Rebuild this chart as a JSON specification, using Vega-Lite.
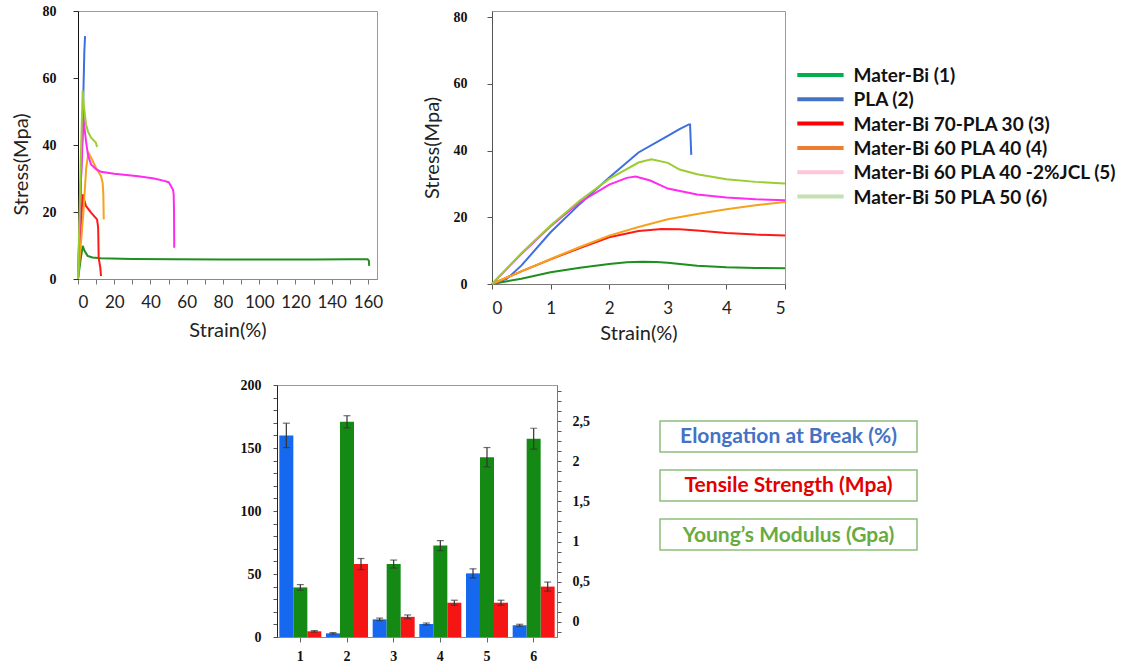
{
  "$schema": "https://vega.github.io/schema/vega-lite/v6.json",
  "background": "white",
  "padding": {"left": 10, "top": 3, "right": 3, "bottom": 0},
  "config": {
    "view": {"stroke": "#9a9a9a"},
    "axis": {"grid": false},
    "font": "Lato"
  },
  "datasets": {
    "full": [
      {"id": "1", "strain": 0, "stress": 0}, {"id": "1", "strain": 1.5, "stress": 6}, {"id": "1", "strain": 2.6, "stress": 9.9}, {"id": "1", "strain": 3.5, "stress": 8.5}, {"id": "1", "strain": 5.3, "stress": 6.9}, {"id": "1", "strain": 8, "stress": 6.4}, {"id": "1", "strain": 12.7, "stress": 6.2}, {"id": "1", "strain": 30, "stress": 6.0}, {"id": "1", "strain": 53, "stress": 5.9}, {"id": "1", "strain": 80, "stress": 5.8}, {"id": "1", "strain": 104.6, "stress": 5.8}, {"id": "1", "strain": 130, "stress": 5.8}, {"id": "1", "strain": 150, "stress": 5.9}, {"id": "1", "strain": 159.8, "stress": 5.9}, {"id": "1", "strain": 160.5, "stress": 5.5}, {"id": "1", "strain": 160.7, "stress": 3.9},
      {"id": "2", "strain": 0, "stress": 0}, {"id": "2", "strain": 2.5, "stress": 45}, {"id": "2", "strain": 3.1, "stress": 58.6}, {"id": "2", "strain": 3.5, "stress": 68}, {"id": "2", "strain": 3.9, "stress": 72.5},
      {"id": "3", "strain": 0, "stress": 0}, {"id": "3", "strain": 1.5, "stress": 15}, {"id": "3", "strain": 2.6, "stress": 25.3}, {"id": "3", "strain": 3.2, "stress": 24}, {"id": "3", "strain": 4.4, "stress": 21.8}, {"id": "3", "strain": 7.2, "stress": 19.8}, {"id": "3", "strain": 10.5, "stress": 17.8}, {"id": "3", "strain": 11.1, "stress": 15.5}, {"id": "3", "strain": 11.2, "stress": 13.3}, {"id": "3", "strain": 11.4, "stress": 6.4}, {"id": "3", "strain": 12.3, "stress": 3.4}, {"id": "3", "strain": 12.7, "stress": 0.9},
      {"id": "4", "strain": 0, "stress": 0}, {"id": "4", "strain": 3, "stress": 20}, {"id": "4", "strain": 4.5, "stress": 33}, {"id": "4", "strain": 5.7, "stress": 37.7}, {"id": "4", "strain": 7, "stress": 36.5}, {"id": "4", "strain": 9.9, "stress": 33.2}, {"id": "4", "strain": 12.7, "stress": 30.7}, {"id": "4", "strain": 13.6, "stress": 28.7}, {"id": "4", "strain": 14, "stress": 25}, {"id": "4", "strain": 14.2, "stress": 17.8},
      {"id": "5", "strain": 0, "stress": 0}, {"id": "5", "strain": 1.5, "stress": 28}, {"id": "5", "strain": 3.1, "stress": 48.4}, {"id": "5", "strain": 3.6, "stress": 45}, {"id": "5", "strain": 4.4, "stress": 41.2}, {"id": "5", "strain": 5.5, "stress": 37}, {"id": "5", "strain": 7.2, "stress": 34.2}, {"id": "5", "strain": 10, "stress": 32.8}, {"id": "5", "strain": 12.7, "stress": 32}, {"id": "5", "strain": 20, "stress": 31.4}, {"id": "5", "strain": 33.3, "stress": 30.7}, {"id": "5", "strain": 42, "stress": 30}, {"id": "5", "strain": 47.6, "stress": 29.3}, {"id": "5", "strain": 50, "stress": 28.9}, {"id": "5", "strain": 51.3, "stress": 27.8}, {"id": "5", "strain": 52.5, "stress": 26.5}, {"id": "5", "strain": 52.8, "stress": 25.3}, {"id": "5", "strain": 53, "stress": 20}, {"id": "5", "strain": 53.1, "stress": 9.3},
      {"id": "6", "strain": 0, "stress": 0}, {"id": "6", "strain": 1.5, "stress": 35}, {"id": "6", "strain": 2.6, "stress": 56.3}, {"id": "6", "strain": 3.2, "stress": 52}, {"id": "6", "strain": 4.4, "stress": 46.2}, {"id": "6", "strain": 5.5, "stress": 44}, {"id": "6", "strain": 7.2, "stress": 42.2}, {"id": "6", "strain": 9.9, "stress": 40.7}, {"id": "6", "strain": 10.5, "stress": 39.4}
    ],
    "zoom": [
      {"id": "1", "strain": 0, "stress": 0}, {"id": "1", "strain": 0.5, "stress": 1.6}, {"id": "1", "strain": 1, "stress": 3.5}, {"id": "1", "strain": 1.5, "stress": 4.9}, {"id": "1", "strain": 2, "stress": 6}, {"id": "1", "strain": 2.3, "stress": 6.5}, {"id": "1", "strain": 2.56, "stress": 6.7}, {"id": "1", "strain": 2.8, "stress": 6.6}, {"id": "1", "strain": 3, "stress": 6.4}, {"id": "1", "strain": 3.5, "stress": 5.5}, {"id": "1", "strain": 4, "stress": 5}, {"id": "1", "strain": 4.5, "stress": 4.8}, {"id": "1", "strain": 5, "stress": 4.7},
      {"id": "2", "strain": 0, "stress": 0}, {"id": "2", "strain": 0.25, "stress": 1.5}, {"id": "2", "strain": 0.5, "stress": 5.5}, {"id": "2", "strain": 1, "stress": 15.5}, {"id": "2", "strain": 1.5, "stress": 24}, {"id": "2", "strain": 2, "stress": 31.9}, {"id": "2", "strain": 2.5, "stress": 39.4}, {"id": "2", "strain": 3, "stress": 44.4}, {"id": "2", "strain": 3.2, "stress": 46.4}, {"id": "2", "strain": 3.36, "stress": 47.8}, {"id": "2", "strain": 3.38, "stress": 47.8}, {"id": "2", "strain": 3.4, "stress": 38.7},
      {"id": "3", "strain": 0, "stress": 0}, {"id": "3", "strain": 0.5, "stress": 3.8}, {"id": "3", "strain": 1, "stress": 7.4}, {"id": "3", "strain": 1.5, "stress": 10.8}, {"id": "3", "strain": 2, "stress": 14}, {"id": "3", "strain": 2.5, "stress": 15.9}, {"id": "3", "strain": 2.9, "stress": 16.5}, {"id": "3", "strain": 3.2, "stress": 16.4}, {"id": "3", "strain": 3.5, "stress": 16}, {"id": "3", "strain": 4, "stress": 15.3}, {"id": "3", "strain": 4.5, "stress": 14.8}, {"id": "3", "strain": 5, "stress": 14.5},
      {"id": "4", "strain": 0, "stress": 0}, {"id": "4", "strain": 0.5, "stress": 3.8}, {"id": "4", "strain": 1, "stress": 7.5}, {"id": "4", "strain": 1.5, "stress": 11.1}, {"id": "4", "strain": 2, "stress": 14.5}, {"id": "4", "strain": 2.5, "stress": 17.1}, {"id": "4", "strain": 3, "stress": 19.4}, {"id": "4", "strain": 3.5, "stress": 21}, {"id": "4", "strain": 4, "stress": 22.4}, {"id": "4", "strain": 4.5, "stress": 23.6}, {"id": "4", "strain": 5, "stress": 24.6},
      {"id": "5", "strain": 0, "stress": 0}, {"id": "5", "strain": 0.5, "stress": 9}, {"id": "5", "strain": 1, "stress": 17.3}, {"id": "5", "strain": 1.5, "stress": 24.5}, {"id": "5", "strain": 2, "stress": 29.8}, {"id": "5", "strain": 2.3, "stress": 31.8}, {"id": "5", "strain": 2.45, "stress": 32.2}, {"id": "5", "strain": 2.7, "stress": 31}, {"id": "5", "strain": 3, "stress": 28.6}, {"id": "5", "strain": 3.5, "stress": 26.8}, {"id": "5", "strain": 4, "stress": 25.9}, {"id": "5", "strain": 4.5, "stress": 25.4}, {"id": "5", "strain": 5, "stress": 25.1},
      {"id": "6", "strain": 0, "stress": 0}, {"id": "6", "strain": 0.5, "stress": 9.2}, {"id": "6", "strain": 1, "stress": 17.5}, {"id": "6", "strain": 1.5, "stress": 25}, {"id": "6", "strain": 2, "stress": 31.5}, {"id": "6", "strain": 2.5, "stress": 36.4}, {"id": "6", "strain": 2.72, "stress": 37.4}, {"id": "6", "strain": 3, "stress": 36.3}, {"id": "6", "strain": 3.2, "stress": 34.3}, {"id": "6", "strain": 3.5, "stress": 32.9}, {"id": "6", "strain": 4, "stress": 31.4}, {"id": "6", "strain": 4.5, "stress": 30.6}, {"id": "6", "strain": 5, "stress": 30.1}
    ],
    "names": [
      {"id": "1", "name": "Mater-Bi (1)"},
      {"id": "2", "name": "PLA (2)"},
      {"id": "3", "name": "Mater-Bi 70-PLA 30 (3)"},
      {"id": "4", "name": "Mater-Bi 60 PLA 40 (4)"},
      {"id": "5", "name": "Mater-Bi 60 PLA 40 -2%JCL (5)"},
      {"id": "6", "name": "Mater-Bi 50 PLA 50 (6)"}
    ],
    "bars": [
      {"g": "1", "m": "E", "v": 160, "lo": 150.3, "hi": 169.7},
      {"g": "1", "m": "Y", "v": 0.43, "lo": 0.395, "hi": 0.465},
      {"g": "1", "m": "T", "v": 4.5, "lo": 3.9, "hi": 5.1},
      {"g": "2", "m": "E", "v": 2.9, "lo": 2.3, "hi": 3.5},
      {"g": "2", "m": "Y", "v": 2.49, "lo": 2.414, "hi": 2.566},
      {"g": "2", "m": "T", "v": 57.9, "lo": 53.5, "hi": 62.3},
      {"g": "3", "m": "E", "v": 14, "lo": 13, "hi": 15},
      {"g": "3", "m": "Y", "v": 0.72, "lo": 0.67, "hi": 0.77},
      {"g": "3", "m": "T", "v": 16, "lo": 14.5, "hi": 17.5},
      {"g": "4", "m": "E", "v": 10.3, "lo": 9.5, "hi": 11.1},
      {"g": "4", "m": "Y", "v": 0.95, "lo": 0.888, "hi": 1.012},
      {"g": "4", "m": "T", "v": 27.2, "lo": 25.2, "hi": 29.2},
      {"g": "5", "m": "E", "v": 50.5, "lo": 46.9, "hi": 54.1},
      {"g": "5", "m": "Y", "v": 2.05, "lo": 1.93, "hi": 2.17},
      {"g": "5", "m": "T", "v": 27.2, "lo": 25.2, "hi": 29.2},
      {"g": "6", "m": "E", "v": 9.3, "lo": 8.5, "hi": 10.1},
      {"g": "6", "m": "Y", "v": 2.28, "lo": 2.15, "hi": 2.41},
      {"g": "6", "m": "T", "v": 40, "lo": 36.4, "hi": 43.6}
    ]
  },
  "resolve": {"scale": {"color": "independent"}},
  "spacing": 33,
  "vconcat": [
    {
      "spacing": 37,
      "hconcat": [
        {
          "width": 299,
          "height": 268,
          "data": {"name": "full"},
          "mark": {"type": "line", "strokeWidth": 2},
          "encoding": {
            "x": {"field": "strain", "type": "quantitative", "scale": {"domain": [0, 165], "nice": false},
              "axis": {"values": [0, 10, 20, 30, 40, 50, 60, 70, 80, 90, 100, 110, 120, 130, 140, 150, 160], "labelExpr": "datum.value % 20 == 0 ? datum.label : ''", "labelOverlap": false, "labelFont": "Lato", "labelFontSize": 17, "labelColor": "#222", "labelPadding": 10, "tickSize": 5, "tickColor": "#777", "domainColor": "#888", "title": "Strain(%)", "titleFont": "Lato", "titleFontSize": 20, "titleFontWeight": "normal", "titleColor": "#222", "titlePadding": 10}},
            "y": {"field": "stress", "type": "quantitative", "scale": {"domain": [0, 80], "nice": false},
              "axis": {"values": [0, 20, 40, 60, 80], "labelFont": "Liberation Serif", "labelFontWeight": "bold", "labelFontSize": 14, "labelColor": "#111", "labelPadding": 17, "tickSize": 5, "tickColor": "#333", "domainColor": "#111", "title": "Stress(Mpa)", "titleFont": "Lato", "titleFontSize": 20, "titleFontWeight": "normal", "titleColor": "#222", "titlePadding": 11, "titleY": 153}},
            "color": {"field": "id", "type": "nominal", "scale": {"domain": ["1", "2", "3", "4", "5", "6"], "range": ["#1f8f1f", "#3d6fe0", "#ff1a1a", "#f5a31a", "#ff2bf0", "#9acd32"]}, "legend": null}
          }
        },
        {
          "width": 293,
          "height": 273,
          "resolve": {"scale": {"y": "independent"}},
          "layer": [
            {
              "data": {"name": "zoom"},
              "mark": {"type": "line", "strokeWidth": 2},
              "encoding": {
                "x": {"field": "strain", "type": "quantitative", "scale": {"domain": [0, 5], "nice": false},
                  "axis": {"values": [0, 1, 2, 3, 4, 5], "format": "d", "labelFont": "Lato", "labelFontSize": 17, "labelColor": "#222", "labelPadding": 11, "tickSize": 5, "tickColor": "#555", "domainColor": "#777", "title": "Strain(%)", "titleFont": "Lato", "titleFontSize": 20, "titleFontWeight": "normal", "titleColor": "#222", "titlePadding": 7}},
                "y": {"field": "stress", "type": "quantitative", "scale": {"domain": [0, 81.8], "nice": false},
                  "axis": {"values": [0, 20, 40, 60, 80], "labelFont": "Liberation Serif", "labelFontWeight": "bold", "labelFontSize": 14, "labelColor": "#111", "labelPadding": 20, "tickSize": 5, "tickColor": "#555", "domainColor": "#555", "title": "Stress(Mpa)", "titleFont": "Lato", "titleFontSize": 20, "titleFontWeight": "normal", "titleColor": "#222", "titlePadding": 11}},
                "color": {"field": "id", "type": "nominal", "scale": {"domain": ["1", "2", "3", "4", "5", "6"], "range": ["#1f8f1f", "#3d6fe0", "#ff1a1a", "#f5a31a", "#ff2bf0", "#9acd32"]}, "legend": null}
              }
            },
            {
              "data": {"name": "names"},
              "encoding": {
                "y": {"field": "id", "type": "nominal", "scale": {"type": "point", "domain": ["1", "2", "3", "4", "5", "6"], "range": [64, 185.5], "padding": 0}, "axis": null}
              },
              "layer": [
                {
                  "mark": {"type": "rule", "strokeWidth": 4},
                  "encoding": {
                    "x": {"datum": 5.21, "type": "quantitative"},
                    "x2": {"datum": 6.0},
                    "stroke": {"field": "id", "type": "nominal", "scale": {"domain": ["1", "2", "3", "4", "5", "6"], "range": ["#00b050", "#4472c4", "#ff0000", "#ed7d31", "#ffc6d9", "#c5e0b4"]}, "legend": null}
                  }
                },
                {
                  "mark": {"type": "text", "align": "left", "baseline": "middle", "font": "Lato", "fontSize": 19, "fontWeight": "bold", "color": "#111", "dy": 1},
                  "encoding": {
                    "x": {"datum": 6.17, "type": "quantitative"},
                    "text": {"field": "name"}
                  }
                }
              ]
            }
          ]
        }
      ]
    },
    {
      "spacing": 69,
      "resolve": {"scale": {"color": "independent"}},
      "hconcat": [
        {
          "width": 92,
          "height": 1,
          "view": {"stroke": null},
          "data": {"values": []},
          "mark": "point"
        },
        {
          "width": 280,
          "height": 252,
          "data": {"name": "bars"},
          "encoding": {
            "x": {"field": "g", "type": "nominal", "scale": {"paddingInner": 0.1, "paddingOuter": 0.05},
              "axis": {"labelAngle": 0, "labelFont": "Liberation Serif", "labelFontWeight": "bold", "labelFontSize": 14, "labelColor": "#111", "labelPadding": 7, "tickSize": 5, "tickColor": "#666", "domainColor": "#888", "title": null}},
            "xOffset": {"field": "m", "type": "nominal", "scale": {"domain": ["E", "Y", "T"]}}
          },
          "resolve": {"scale": {"y": "independent"}},
          "layer": [
            {
              "transform": [{"filter": "datum.m != 'Y'"}],
              "layer": [
                {
                  "mark": {"type": "bar"},
                  "encoding": {
                    "y": {"field": "v", "type": "quantitative", "scale": {"domain": [0, 200], "nice": false},
                      "axis": {"values": [0, 10, 20, 30, 40, 50, 60, 70, 80, 90, 100, 110, 120, 130, 140, 150, 160, 170, 180, 190, 200], "labelExpr": "datum.value % 50 == 0 ? datum.label : ''", "labelOverlap": false, "labelFont": "Liberation Serif", "labelFontWeight": "bold", "labelFontSize": 14, "labelColor": "#111", "labelPadding": 12, "tickSize": 4, "tickColor": "#555", "domainColor": "#222", "title": null}},
                    "color": {"field": "m", "type": "nominal", "scale": {"domain": ["E", "Y", "T"], "range": ["#1668ee", "#148a14", "#f51515"]}, "legend": null}
                  }
                },
                {
                  "mark": {"type": "rule", "color": "#333", "strokeWidth": 1.2},
                  "encoding": {
                    "y": {"field": "lo", "type": "quantitative",
                      "axis": {"values": [0, 10, 20, 30, 40, 50, 60, 70, 80, 90, 100, 110, 120, 130, 140, 150, 160, 170, 180, 190, 200], "labelExpr": "datum.value % 50 == 0 ? datum.label : ''", "labelOverlap": false, "labelFont": "Liberation Serif", "labelFontWeight": "bold", "labelFontSize": 14, "labelColor": "#111", "labelPadding": 12, "tickSize": 4, "tickColor": "#555", "domainColor": "#222", "title": null}},
                    "y2": {"field": "hi"}
                  }
                },
                {
                  "mark": {"type": "tick", "color": "#333", "size": 7, "thickness": 1.2},
                  "encoding": {"y": {"field": "lo", "type": "quantitative",
                      "axis": {"values": [0, 10, 20, 30, 40, 50, 60, 70, 80, 90, 100, 110, 120, 130, 140, 150, 160, 170, 180, 190, 200], "labelExpr": "datum.value % 50 == 0 ? datum.label : ''", "labelOverlap": false, "labelFont": "Liberation Serif", "labelFontWeight": "bold", "labelFontSize": 14, "labelColor": "#111", "labelPadding": 12, "tickSize": 4, "tickColor": "#555", "domainColor": "#222", "title": null}}}
                },
                {
                  "mark": {"type": "tick", "color": "#333", "size": 7, "thickness": 1.2},
                  "encoding": {"y": {"field": "hi", "type": "quantitative",
                      "axis": {"values": [0, 10, 20, 30, 40, 50, 60, 70, 80, 90, 100, 110, 120, 130, 140, 150, 160, 170, 180, 190, 200], "labelExpr": "datum.value % 50 == 0 ? datum.label : ''", "labelOverlap": false, "labelFont": "Liberation Serif", "labelFontWeight": "bold", "labelFontSize": 14, "labelColor": "#111", "labelPadding": 12, "tickSize": 4, "tickColor": "#555", "domainColor": "#222", "title": null}}}
                }
              ]
            },
            {
              "transform": [{"filter": "datum.m == 'Y'"}],
              "layer": [
                {
                  "mark": {"type": "bar"},
                  "encoding": {
                    "y": {"field": "v", "type": "quantitative", "scale": {"domain": [-0.187, 2.948], "nice": false, "zero": false},
                      "axis": {"orient": "right", "values": [-0.125, 0, 0.125, 0.25, 0.375, 0.5, 0.625, 0.75, 0.875, 1, 1.125, 1.25, 1.375, 1.5, 1.625, 1.75, 1.875, 2, 2.125, 2.25, 2.375, 2.5, 2.625, 2.75, 2.875], "labelExpr": "datum.value % 0.5 == 0 ? replace(format(datum.value, '~g'), '.', ',') : ''", "labelOverlap": false, "labelFont": "Liberation Serif", "labelFontWeight": "bold", "labelFontSize": 14, "labelColor": "#111", "labelPadding": 11, "tickSize": 4, "tickColor": "#555", "domainColor": "#777", "title": null}},
                    "y2": {"datum": -0.187},
                    "color": {"field": "m", "type": "nominal", "scale": {"domain": ["E", "Y", "T"], "range": ["#1668ee", "#148a14", "#f51515"]}, "legend": null}
                  }
                },
                {
                  "mark": {"type": "rule", "color": "#333", "strokeWidth": 1.2},
                  "encoding": {
                    "y": {"field": "lo", "type": "quantitative",
                      "axis": {"orient": "right", "values": [-0.125, 0, 0.125, 0.25, 0.375, 0.5, 0.625, 0.75, 0.875, 1, 1.125, 1.25, 1.375, 1.5, 1.625, 1.75, 1.875, 2, 2.125, 2.25, 2.375, 2.5, 2.625, 2.75, 2.875], "labelExpr": "datum.value % 0.5 == 0 ? replace(format(datum.value, '~g'), '.', ',') : ''", "labelOverlap": false, "labelFont": "Liberation Serif", "labelFontWeight": "bold", "labelFontSize": 14, "labelColor": "#111", "labelPadding": 11, "tickSize": 4, "tickColor": "#555", "domainColor": "#777", "title": null}},
                    "y2": {"field": "hi"}
                  }
                },
                {
                  "mark": {"type": "tick", "color": "#333", "size": 7, "thickness": 1.2},
                  "encoding": {"y": {"field": "lo", "type": "quantitative",
                      "axis": {"orient": "right", "values": [-0.125, 0, 0.125, 0.25, 0.375, 0.5, 0.625, 0.75, 0.875, 1, 1.125, 1.25, 1.375, 1.5, 1.625, 1.75, 1.875, 2, 2.125, 2.25, 2.375, 2.5, 2.625, 2.75, 2.875], "labelExpr": "datum.value % 0.5 == 0 ? replace(format(datum.value, '~g'), '.', ',') : ''", "labelOverlap": false, "labelFont": "Liberation Serif", "labelFontWeight": "bold", "labelFontSize": 14, "labelColor": "#111", "labelPadding": 11, "tickSize": 4, "tickColor": "#555", "domainColor": "#777", "title": null}}}
                },
                {
                  "mark": {"type": "tick", "color": "#333", "size": 7, "thickness": 1.2},
                  "encoding": {"y": {"field": "hi", "type": "quantitative",
                      "axis": {"orient": "right", "values": [-0.125, 0, 0.125, 0.25, 0.375, 0.5, 0.625, 0.75, 0.875, 1, 1.125, 1.25, 1.375, 1.5, 1.625, 1.75, 1.875, 2, 2.125, 2.25, 2.375, 2.5, 2.625, 2.75, 2.875], "labelExpr": "datum.value % 0.5 == 0 ? replace(format(datum.value, '~g'), '.', ',') : ''", "labelOverlap": false, "labelFont": "Liberation Serif", "labelFontWeight": "bold", "labelFontSize": 14, "labelColor": "#111", "labelPadding": 11, "tickSize": 4, "tickColor": "#555", "domainColor": "#777", "title": null}}}
                }
              ]
            }
          ]
        },
        {
          "width": 257,
          "height": 200,
          "view": {"stroke": null},
          "data": {"values": [
            {"label": "Elongation at Break (%)"},
            {"label": "Tensile Strength (Mpa)"},
            {"label": "Young’s Modulus (Gpa)"}
          ]},
          "encoding": {
            "y": {"field": "label", "type": "nominal", "sort": null, "scale": {"paddingInner": 0.367, "paddingOuter": 0.724, "align": 0.507}, "axis": null}
          },
          "layer": [
            {
              "mark": {"type": "bar", "fill": "white", "stroke": "#8fbf7b", "strokeWidth": 1.5},
              "encoding": {
                "x": {"datum": 0, "type": "quantitative", "scale": {"domain": [0, 1], "nice": false}, "axis": null},
                "x2": {"datum": 1}
              }
            },
            {
              "mark": {"type": "text", "align": "center", "baseline": "middle", "font": "Lato", "fontSize": 21, "fontWeight": "bold", "dy": 1},
              "encoding": {
                "x": {"datum": 0.5, "type": "quantitative"},
                "text": {"field": "label"},
                "color": {"field": "label", "type": "nominal", "scale": {"domain": ["Elongation at Break (%)", "Tensile Strength (Mpa)", "Young’s Modulus (Gpa)"], "range": ["#4472c4", "#e30000", "#6aab40"]}, "legend": null}
              }
            }
          ]
        }
      ]
    }
  ]
}
